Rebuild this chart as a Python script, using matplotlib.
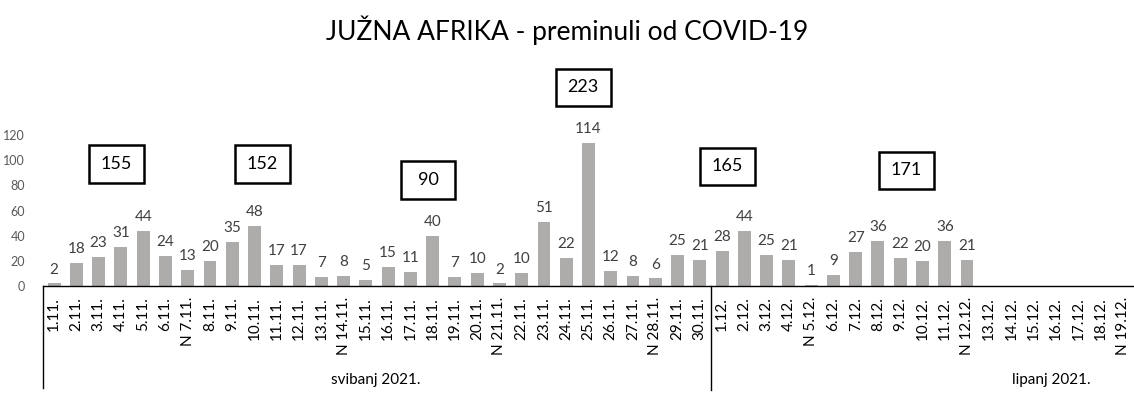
import matplotlib
matplotlib.use("Agg")
import matplotlib.pyplot as plt
from matplotlib.patches import Rectangle
import matplotlib.transforms as mtransforms

plt.rcParams['font.family'] = ['Lato', 'DejaVu Sans']

# ---- data ----
nov_labels = [f"{d}.11." for d in range(1, 31)]
dec_labels = [f"{d}.12." for d in range(1, 20)]
sundays = {"7.11.", "14.11.", "21.11.", "28.11.", "5.12.", "12.12.", "19.12."}
categories = [("N " + c if c in sundays else c) for c in nov_labels + dec_labels]

nov_values = [2, 18, 23, 31, 44, 24, 13, 20, 35, 48, 17, 17, 7, 8, 5, 15, 11, 40,
              7, 10, 2, 10, 51, 22, 114, 12, 8, 6, 25, 21]
dec_values = [28, 44, 25, 21, 1, 9, 27, 36, 22, 20, 36, 21]
values = nov_values + dec_values

weekly_sums = [155, 152, 90, 223, 165, 171]
# box centres in pixel coordinates of the figure (x from left, y from top)
box_pos_px = [(116, 164), (262, 164), (428, 180), (583, 87), (727, 166), (906, 170)]

month_labels = ["svibanj 2021.", "lipanj 2021."]
month_pos_px = [376, 1051]

# ---- figure ----
W, H = 1134, 395
fig = plt.figure(figsize=(W / 100, H / 100), dpi=100)
ax_left, ax_bottom_px, ax_top_px = 43, 286, 135
ax = fig.add_axes([ax_left / W, (H - ax_bottom_px) / H, (W - ax_left) / W,
                   (ax_bottom_px - ax_top_px) / H])

n = len(categories)
x = list(range(len(values)))
bar_color = "#AEABAB"
bars = ax.bar(x, values, width=0.58, color=bar_color, zorder=2)
for xi, v in zip(x, values):
    ax.annotate(str(v), (xi, v), xytext=(0, 5), textcoords="offset points",
                ha="center", va="bottom", fontsize=11, color="#404040",
                annotation_clip=False)

ax.set_xlim(-0.5, n - 0.5)
ax.set_ylim(0, 120)
ax.set_yticks(range(0, 121, 20))
ax.tick_params(axis="y", length=0, labelsize=9, colors="#595959", pad=13)
ax.set_xticks(range(n))
ax.set_xticklabels(categories, rotation=90, fontsize=11, color="#000000")
ax.tick_params(axis="x", length=0, pad=8)
for s in ["top", "right", "left"]:
    ax.spines[s].set_visible(False)
ax.spines["bottom"].set_color("#000000")
ax.spines["bottom"].set_linewidth(1.0)

# group dividers below axis
trans = mtransforms.blended_transform_factory(ax.transData, ax.transAxes)
axh = ax_bottom_px - ax_top_px
for xv, ybot in [(-0.5, 388), (len(nov_values) - 0.5, 390)]:
    ax.plot([xv, xv], [0, -(ybot - ax_bottom_px) / axh], transform=trans,
            color="black", lw=1.0, clip_on=False)

for lab, px in zip(month_labels, month_pos_px):
    fig.text(px / W, 1 - 380 / H, lab, ha="center", va="center", fontsize=11,
             color="#000000")

# weekly boxes
bw, bh = 55, 37
for val, (cx, cy) in zip(weekly_sums, box_pos_px):
    fig.patches.append(Rectangle(((cx - bw / 2) / W, 1 - (cy + bh / 2) / H),
                                 bw / W, bh / H, transform=fig.transFigure,
                                 fill=False, edgecolor="black", linewidth=1.8))
    fig.text(cx / W, 1 - cy / H, str(val), ha="center", va="center",
             fontsize=13, color="black")

fig.text(0.5, 1 - 30 / H, "JUŽNA AFRIKA - preminuli od COVID-19",
         ha="center", va="center", fontsize=19, color="black")

fig.savefig("out.png", dpi=100)
